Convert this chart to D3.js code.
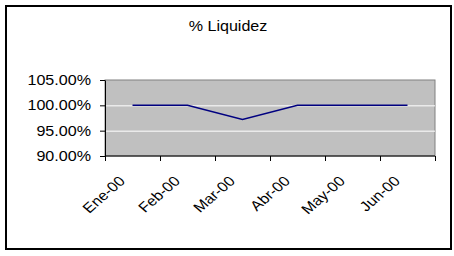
<!DOCTYPE html>
<html>
<head>
    <script src="https://d3js.org/d3.v7.min.js"></script>
    <style>
        body { margin: 0; background: #fff; font-family: "Liberation Sans", Arial, sans-serif; }
    </style>
</head>
<body>
<svg id="chart"></svg>
<script>
const width = 454, height = 256;

const months = ["Ene-00", "Feb-00", "Mar-00", "Abr-00", "May-00", "Jun-00"];
const liquidez = [100, 100, 97.2, 100, 100, 100];
const yTicks = [90, 95, 100, 105];
const gridTicks = [95, 100];

const plot = { left: 105, right: 435, top: 80, bottom: 156 };
// the reference text looks a bit wider than normal Arial
const stretch = "scale(1.15,1)";

const svg = d3.select("#chart")
    .attr("width", width)
    .attr("height", height)
    .style("font-family", "'Liberation Sans', Arial, sans-serif");

// outer frame
svg.append("rect")
    .attr("x", 6).attr("y", 6)
    .attr("width", 445).attr("height", 243)
    .attr("fill", "#fff")
    .attr("stroke", "#000")
    .attr("stroke-width", 2);

const x = d3.scaleBand()
    .domain(months)
    .range([plot.left, plot.right]);

const y = d3.scaleLinear()
    .domain([90, 105])
    .range([plot.bottom, plot.top]);

// plot area
svg.append("rect")
    .attr("x", plot.left).attr("y", plot.top)
    .attr("width", plot.right - plot.left)
    .attr("height", plot.bottom - plot.top)
    .attr("fill", "#c0c0c0")
    .attr("stroke", "#808080")
    .attr("stroke-width", 1);

// gridlines
svg.append("g")
    .selectAll("line")
    .data(gridTicks)
    .join("line")
    .attr("x1", plot.left).attr("x2", plot.right)
    .attr("y1", d => y(d) + 0.5).attr("y2", d => y(d) + 0.5)
    .attr("stroke", "#fff")
    .attr("stroke-width", 1);

// y axis
const yAxis = svg.append("g")
    .attr("transform", `translate(${plot.left},0)`)
    .call(d3.axisLeft(y)
        .tickValues(yTicks)
        .tickFormat(d => d.toFixed(2) + "%")
        .tickSize(5)
        .tickSizeOuter(0));
yAxis.select(".domain").attr("stroke", "#000");
yAxis.selectAll(".tick line").attr("stroke", "#000");
yAxis.selectAll("text")
    .attr("x", 0)
    .attr("transform", `translate(-14,0) ${stretch}`)
    .attr("fill", "#000")
    .style("font-size", "14px")
    .style("font-family", "'Liberation Sans', Arial, sans-serif");

// x axis (ticks at band edges)
const xAxis = svg.append("g")
    .attr("transform", `translate(0,${plot.bottom})`);
xAxis.append("line")
    .attr("x1", plot.left).attr("x2", plot.right)
    .attr("stroke", "#000");
xAxis.selectAll("line.tick")
    .data(months.concat(["end"]))
    .join("line")
    .attr("class", "tick")
    .attr("x1", (d, i) => plot.left + i * x.bandwidth() + 0.5)
    .attr("x2", (d, i) => plot.left + i * x.bandwidth() + 0.5)
    .attr("y1", 0).attr("y2", 5)
    .attr("stroke", "#000");
xAxis.selectAll("text")
    .data(months)
    .join("text")
    .attr("transform", d => `translate(${x(d) + x.bandwidth() / 2 - 6.5},26) ${stretch} rotate(-45)`)
    .attr("text-anchor", "end")
    .style("font-size", "14px")
    .attr("fill", "#000")
    .text(d => d);

// line
const line = d3.line()
    .x((d, i) => x(months[i]) + x.bandwidth() / 2)
    .y(d => y(d));

svg.append("path")
    .datum(liquidez)
    .attr("d", line)
    .attr("fill", "none")
    .attr("stroke", "#000080")
    .attr("stroke-width", 1.5);

// title
svg.append("text")
    .attr("transform", `translate(228,31) ${stretch}`)
    .attr("text-anchor", "middle")
    .style("font-size", "14px")
    .attr("fill", "#000")
    .text("% Liquidez");
</script>
</body>
</html>
